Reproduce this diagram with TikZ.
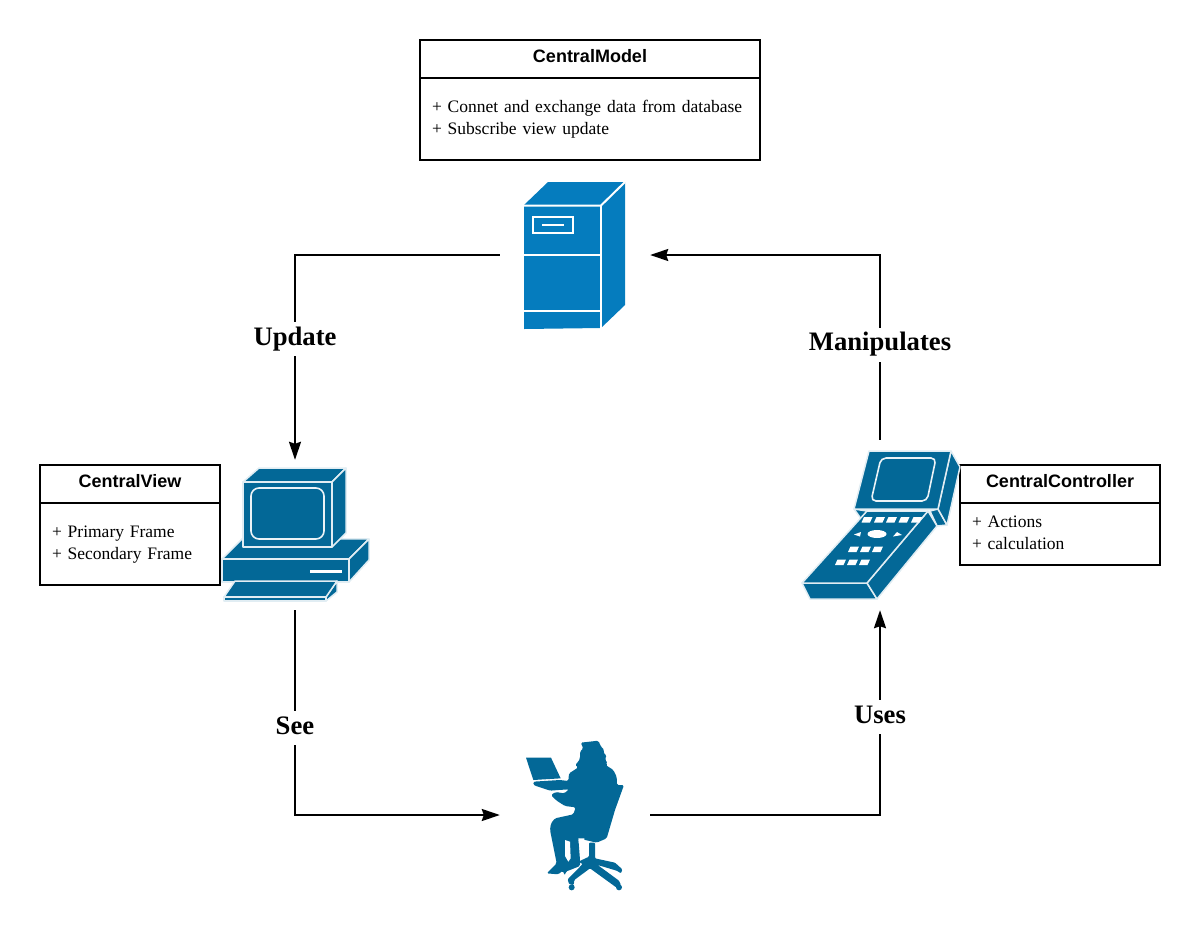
\documentclass[tikz,border=0pt]{standalone}
\usepackage{fontspec}
\setmainfont{Liberation Serif}
\setsansfont{Liberation Sans}
\usetikzlibrary{arrows.meta}
\definecolor{serverblue}{HTML}{057CBE}
\definecolor{iconblue}{HTML}{036897}
\tikzset{
  headbox/.style={draw,line width=2pt,inner sep=0pt,text height=12.5pt,text depth=5pt,
    font=\sffamily\bfseries\fontsize{18}{21}\selectfont},
  bodybox/.style={draw,line width=2pt,inner sep=0pt,inner xsep=12pt,align=left,
    font=\fontsize{17.5}{21.5}\selectfont},
  iconbox/.style={inner sep=0pt},
  edgelabel/.style={fill=white,inner xsep=3pt,inner ysep=5pt,text height=18pt,text depth=6pt,
    font=\bfseries\fontsize{26.67}{30}\selectfont},
  shell/.style={fill=iconblue,draw=white!88!iconblue,line width=1.5pt,line join=round},
  cut/.style={draw=white!92!iconblue,line width=1.6pt},
  key/.style={fill=white,draw=none},
  flow/.style={line width=2pt,-{Stealth[length=18pt,width=12pt,inset=2pt]}}
}
\begin{document}
\begin{tikzpicture}[x=1pt,y=-1pt]
  \useasboundingbox (0,0) rectangle (1200,930);

  % boxes
  \node[headbox,minimum width=340pt,minimum height=38pt] (modelhead) at (590,59) {CentralModel};
  \node[bodybox,minimum width=340pt,minimum height=82pt,text width=316pt] (modelbody) at (590,119)
    {\strut + Connet and exchange data from database\\\strut + Subscribe view update};
  \node[headbox,minimum width=180pt,minimum height=38pt] (viewhead) at (130,484) {CentralView};
  \node[bodybox,minimum width=180pt,minimum height=82pt,text width=156pt] (viewbody) at (130,544)
    {\strut + Primary Frame\\\strut + Secondary Frame};
  \node[headbox,minimum width=200pt,minimum height=38pt] (ctrlhead) at (1060,484) {CentralController};
  \node[bodybox,minimum width=200pt,minimum height=62pt,text width=176pt] (ctrlbody) at (1060,534)
    {\strut + Actions\\\strut + calculation};

  % icon places
  \node[iconbox,minimum width=150pt,minimum height=150pt] (server) at (575,255) {};
  \node[iconbox,minimum width=150pt,minimum height=150pt] (computer) at (295,535) {};
  \node[iconbox,minimum width=150pt,minimum height=170pt] (controller) at (880,525) {};
  \node[iconbox,minimum width=150pt,minimum height=150pt] (person) at (575,815) {};

  % server
  \fill[serverblue] (524,205) -- (548,182) -- (625,182) -- (625,305) -- (601,328) -- (524,329) -- cycle;
  \draw[white,line width=2pt] (523,205.5) -- (601,205.5) -- (625,182);
  \draw[white,line width=2pt] (601,205) -- (601,329);
  \draw[white,line width=2pt] (524,254.5) -- (601,254.5) (524,311) -- (601,311);
  \draw[white,line width=2pt] (533,217) rectangle (573,233) (542,225) -- (564,225);

  % computer
  \draw[shell] (222,559) -- (243,538) -- (369,539) -- (349,559) -- cycle;
  \draw[shell] (222,559) rectangle (349,582);
  \draw[shell] (349,559) -- (369,539) -- (369,560) -- (349,582) -- cycle;
  \draw[shell] (243,482) -- (259,468) -- (346,468) -- (332,482) -- cycle;
  \draw[shell] (332,482) -- (346,468) -- (346,533) -- (332,547) -- cycle;
  \draw[shell] (243,482) rectangle (332,547);
  \draw[cut,rounded corners=8pt] (251,488) rectangle (324,539);
  \draw[white,line width=2.5pt] (310,571.5) -- (342,571.5);
  \draw[shell] (337,581) -- (337,592) -- (326,601) -- (326,597) -- cycle;
  \draw[shell] (235,581) -- (337,581) -- (326,597) -- (224,597) -- cycle;
  \draw[shell] (224,597) rectangle (326,601);

  % controller
  \draw[shell] (854,509) -- (862,520) -- (867,511) -- cycle;
  \draw[shell] (938,509) -- (947,525) -- (937,526) -- (930,511) -- cycle;
  \draw[shell] (951,451) -- (960,467) -- (947,525) -- (938,509) -- cycle;
  \draw[shell] (869,451) -- (951,451) -- (938,509) -- (854,509) -- cycle;
  \draw[cut,rounded corners=5pt] (881,458) -- (936,458) -- (927,501) -- (871,501) -- cycle;
  \draw[shell] (802,583) -- (867,583) -- (877,599) -- (810,599) -- cycle;
  \draw[shell] (928,511) -- (937,526) -- (877,599) -- (867,583) -- cycle;
  \draw[shell] (867,511) -- (928,511) -- (867,583) -- (802,583) -- cycle;
  \foreach \bx in {861.5,874,886,898.5,911}
    \fill[key] (\bx+2.5,517) -- (\bx+11,517) -- (\bx+8.5,522.5) -- (\bx,522.5) -- cycle;
  \foreach \bx in {848,860,872}
    \fill[key] (\bx+2.5,546.5) -- (\bx+11,546.5) -- (\bx+8.5,552) -- (\bx,552) -- cycle;
  \foreach \bx in {835,847,859}
    \fill[key] (\bx+2.5,559.5) -- (\bx+11,559.5) -- (\bx+8.5,565) -- (\bx,565) -- cycle;
  \fill[key] (877,534) ellipse (9.5pt and 4pt);
  \fill[key] (854,534.5) -- (861,532) -- (860,536.5) -- cycle;
  \fill[key] (893,536.5) -- (902,535) -- (897,532) -- cycle;

  % person
  \begin{scope}[shift={(515,730)},scale=1/3]
    \fill[iconblue] (33,83) -- (108,83) -- (137,145) -- (55,150) -- cycle;
    \fill[iconblue,rounded corners=1.5pt] (197,38) -- (250,32) -- (258,50) -- (268,60) -- (265,70) -- (275,75)
      -- (270,88) -- (278,100) -- (272,105) -- (295,120) -- (305,140) -- (306,165) -- (327,165)
      -- (300,240) -- (275,325) -- (245,338) -- (190,325)
      -- (195,390) -- (195,408) -- (165,420) -- (152,425) -- (150,437) -- (143,422) -- (130,433)
      -- (95,430) -- (125,400) -- (115,350) -- (105,300) -- (108,280) -- (120,265) -- (175,253)
      -- (182,232) -- (150,228) -- (125,212) -- (108,195) -- (122,186) -- (148,190) -- (162,178)
      -- (130,180) -- (105,182) -- (55,165) -- (55,155) -- (135,150) -- (160,153) -- (162,130)
      -- (175,122) -- (190,112) -- (180,105) -- (190,95) -- (195,85) -- (195,65) -- (205,55) -- cycle;
    \fill[white] (150,330) -- (165,335) -- (167,385) -- (160,395) -- (150,378) -- cycle;
    \fill[white] (190,325) -- (208,325) -- (208,348) -- (193,345) -- cycle;
    \fill[iconblue,rounded corners=1pt] (222,338) -- (240,338) -- (240,385) -- (300,398) -- (322,418)
      -- (318,430) -- (305,422) -- (248,405) -- (312,452) -- (318,465) -- (303,472) -- (298,468) -- (225,415)
      -- (178,450) -- (176,465) -- (162,462) -- (158,448) -- (203,402) -- (190,395) -- (222,380) -- cycle;
    \fill[iconblue] (170,472) circle (9pt) (312,472) circle (9pt);
  \end{scope}

  % connectors
  \draw[flow] (server.west) -| (computer.north);
  \draw[flow] (computer.south) |- (person.west);
  \draw[flow] (person.east) -| (controller.south);
  \draw[flow] (controller.north) |- (server.east);

  % labels
  \node[edgelabel] (update) at (295,339) {Update};
  \node[edgelabel] (see) at (295,728) {See};
  \node[edgelabel] (uses) at (880,717) {Uses};
  \node[edgelabel] (manipulates) at (880,344.5) {Manipulates};
\end{tikzpicture}
\end{document}
